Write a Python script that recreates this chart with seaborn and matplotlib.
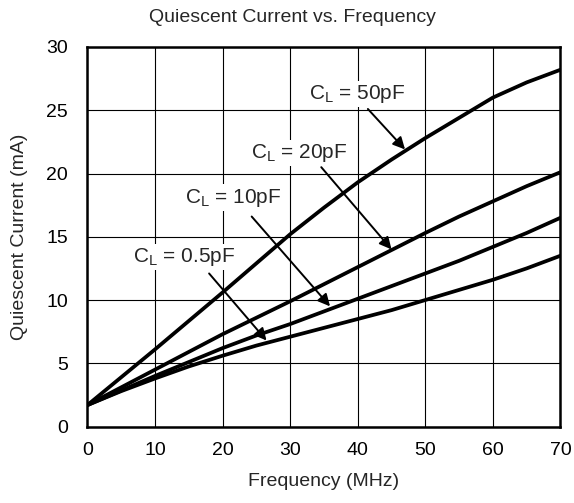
import matplotlib
matplotlib.use("Agg")
import matplotlib.pyplot as plt
import seaborn as sns
import pandas as pd

# frequency points (MHz)
freq = [0, 5, 10, 15, 20, 25, 30, 35, 40, 45, 50, 55, 60, 65, 70]

# quiescent current (mA) for each load capacitance
i_50pf = [1.7, 3.9, 6.1, 8.35, 10.6, 12.9, 15.2, 17.3, 19.3, 21.1, 22.8, 24.4, 26.0, 27.2, 28.2]
i_20pf = [1.7, 3.1, 4.5, 5.9, 7.3, 8.6, 9.9, 11.25, 12.6, 13.95, 15.3, 16.6, 17.8, 19.0, 20.1]
i_10pf = [1.7, 2.85, 4.0, 5.1, 6.2, 7.2, 8.1, 9.1, 10.1, 11.1, 12.1, 13.1, 14.2, 15.3, 16.5]
i_05pf = [1.7, 2.8, 3.8, 4.75, 5.6, 6.4, 7.1, 7.8, 8.5, 9.2, 10.0, 10.8, 11.6, 12.5, 13.5]

loads = ["50pF", "20pF", "10pF", "0.5pF"]
series = [i_50pf, i_20pf, i_10pf, i_05pf]

# label text position and arrow (tail -> tip) in data units
label_xy = [(40.0, 26.3), (31.4, 21.6), (21.6, 18.1), (14.3, 13.4)]
arrow_tail = [(41.5, 25.1), (34.6, 20.5), (24.3, 16.6), (18.0, 12.1)]
arrow_tip = [(47.0, 21.9), (45.0, 14.0), (35.9, 9.5), (26.5, 6.8)]

rows = []
for name, vals in zip(loads, series):
    for f, v in zip(freq, vals):
        rows.append({"freq": f, "current": v, "load": name})
df = pd.DataFrame(rows)

sns.set_style("white")
plt.rcParams['font.family'] = ['Liberation Sans', 'DejaVu Sans']
plt.rcParams['mathtext.default'] = 'regular'

fig = plt.figure(figsize=(5.74, 5.03), dpi=100)
ax = fig.add_axes([0.1524, 0.152, 0.824, 0.7546])

sns.lineplot(data=df, x="freq", y="current", hue="load",
             palette=["black"] * 4, linewidth=2.7, legend=False, ax=ax)

ax.set_xlim(0, 70)
ax.set_ylim(0, 30)
ax.set_xticks(range(0, 71, 10))
ax.set_yticks(range(0, 31, 5))
ax.grid(True, color="black", linewidth=0.8)
ax.set_axisbelow(True)
for sp in ax.spines.values():
    sp.set_visible(True)
    sp.set_color("black")
    sp.set_linewidth(1.8)
ax.tick_params(axis="y", length=0, labelsize=14, pad=14, colors="black")
ax.tick_params(axis="x", length=0, labelsize=14, pad=11, colors="black")

ax.set_xlabel("Frequency (MHz)", fontsize=14, labelpad=10)
ax.set_ylabel("Quiescent Current (mA)", fontsize=14, labelpad=13)
# the title is centred on the figure, not on the plot area
fig.suptitle("Quiescent Current vs. Frequency", fontsize=14,
             x=0.509, y=0.966, va="center")

for name, (tx, ty), tail, tip in zip(loads, label_xy, arrow_tail, arrow_tip):
    ax.text(tx, ty, "C$_{L}$ = " + name, fontsize=15, ha="center", va="center",
            bbox=dict(facecolor="white", edgecolor="none", pad=1.5), zorder=4)
    ax.annotate("", xy=tip, xytext=tail,
                arrowprops=dict(arrowstyle="-|>", color="black", lw=1.4,
                                mutation_scale=18, shrinkA=0, shrinkB=0),
                zorder=5)

fig.savefig("out.png", dpi=100)
